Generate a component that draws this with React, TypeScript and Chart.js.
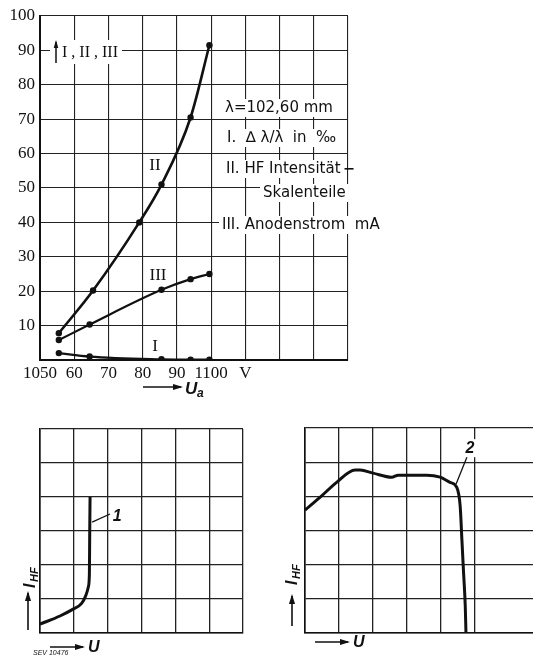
import React, { useEffect, useRef } from "react";
import { Chart, registerables } from "chart.js";

Chart.register(...registerables);

// ---------- Top chart data ----------
const xTickValues = [1050, 1060, 1070, 1080, 1090, 1100, 1110];
const xTickLabels = ["1050", "60", "70", "80", "90", "1100", "V"];
const yTickValues = [10, 20, 30, 40, 50, 60, 70, 80, 90, 100];

const seriesIIVoltage = [1055.5, 1065.5, 1079, 1085.5, 1094, 1099.5];
const seriesIIValues = [7.8, 20.2, 40, 51, 70.5, 91.5];

const seriesIIIVoltage = [1055.5, 1064.5, 1085.5, 1094, 1099.5];
const seriesIIIValues = [5.8, 10.3, 20.4, 23.5, 25];

const seriesIVoltage = [1055.5, 1064.5, 1085.5, 1094, 1099.5];
const seriesIValues = [2, 1, 0.2, 0.1, 0.1];

// ---------- Bottom-left curve 1 ----------
const curve1U = [0, 0.59, 0.94, 1.23, 1.36, 1.43, 1.46, 1.47, 1.48];
const curve1I = [0.26, 0.5, 0.68, 0.87, 1.12, 1.36, 1.75, 3.0, 4.0];

// ---------- Bottom-right curve 2 ----------
const curve2U = [0, 0.44, 0.93, 1.47, 1.62, 2.0, 2.55, 2.74, 3.58, 3.97, 4.26, 4.46, 4.56, 4.61, 4.66, 4.71, 4.73];
const curve2I = [3.6, 3.97, 4.41, 4.77, 4.77, 4.68, 4.56, 4.62, 4.62, 4.56, 4.41, 4.26, 3.71, 2.74, 1.76, 0.77, 0];

const INK = "#111";
const GRID = "#222";
const SERIF = "'Liberation Serif', 'DejaVu Serif', serif";
const SANS = "'DejaVu Sans', 'Liberation Sans', sans-serif";

function pts(xs: number[], ys: number[]) {
  return xs.map((x, i) => ({ x, y: ys[i] }));
}

function arrow(ctx: CanvasRenderingContext2D, x1: number, y1: number, x2: number, y2: number, head = 7, width = 1.5) {
  ctx.beginPath();
  ctx.moveTo(x1, y1);
  ctx.lineTo(x2, y2);
  ctx.lineWidth = width;
  ctx.strokeStyle = INK;
  ctx.stroke();
  const a = Math.atan2(y2 - y1, x2 - x1);
  const s = head * 0.38;
  ctx.beginPath();
  ctx.moveTo(x2 + Math.cos(a) * 2, y2 + Math.sin(a) * 2);
  ctx.lineTo(x2 - head * Math.cos(a) + s * Math.sin(a), y2 - head * Math.sin(a) - s * Math.cos(a));
  ctx.lineTo(x2 - head * Math.cos(a) - s * Math.sin(a), y2 - head * Math.sin(a) + s * Math.cos(a));
  ctx.closePath();
  ctx.fillStyle = INK;
  ctx.fill();
}

function boxedText(ctx: CanvasRenderingContext2D, text: string, x: number, y: number, font: string, pad = 3, h = 18) {
  ctx.font = font;
  const w = ctx.measureText(text).width;
  ctx.fillStyle = "#fff";
  ctx.fillRect(x - pad, y - h / 2, w + 2 * pad, h);
  ctx.fillStyle = INK;
  ctx.textBaseline = "middle";
  ctx.textAlign = "left";
  ctx.fillText(text, x, y);
  return w;
}

const topExtras = {
  id: "topExtras",
  afterDatasetsDraw(chart: any) {
    const ctx: CanvasRenderingContext2D = chart.ctx;
    ctx.save();
    // axis legend ↑ I , II , III
    ctx.fillStyle = "#fff";
    ctx.fillRect(50, 40, 72, 24);
    arrow(ctx, 56, 63, 56, 42, 6, 1.5);
    ctx.fillStyle = INK;
    ctx.font = `16px ${SERIF}`;
    ctx.textBaseline = "middle";
    ctx.fillText("I , II , III", 62, 53);

    // explanation texts
    boxedText(ctx, "λ=102,60 mm", 225, 108, `15px ${SANS}`);
    boxedText(ctx, "I.  ∆ λ/λ  in  ‰", 227, 138, `15px ${SANS}`);
    const w = boxedText(ctx, "II. HF Intensität", 226, 169, `15px ${SANS}`);
    ctx.fillRect(226 + w + 4, 168, 9, 1.6);
    boxedText(ctx, "Skalenteile", 263, 193, `15px ${SANS}`);
    boxedText(ctx, "III. Anodenstrom  mA", 222, 225, `15px ${SANS}`);

    // series labels
    ctx.font = `17px ${SERIF}`;
    ctx.textAlign = "center";
    ctx.fillText("II", 155, 166);
    ctx.fillText("III", 158, 276);
    ctx.fillText("I", 155, 347);

    // x axis title → Ua
    arrow(ctx, 143, 387, 181, 387, 8, 1.6);
    ctx.textAlign = "left";
    ctx.textBaseline = "alphabetic";
    ctx.font = `italic bold 17px 'Liberation Sans', sans-serif`;
    ctx.fillText("U", 185, 394);
    ctx.font = `italic bold 12px 'Liberation Sans', sans-serif`;
    ctx.fillText("a", 197, 397);
    ctx.restore();
  },
};

function ihfLabel(ctx: CanvasRenderingContext2D, cx: number, cy: number) {
  ctx.save();
  ctx.translate(cx, cy);
  ctx.rotate(-Math.PI / 2);
  ctx.fillStyle = INK;
  ctx.textBaseline = "alphabetic";
  ctx.textAlign = "left";
  ctx.font = `italic bold 16px 'Liberation Sans', sans-serif`;
  ctx.fillText("I", -10, 6);
  ctx.font = `italic bold 11px 'Liberation Sans', sans-serif`;
  ctx.fillText("HF", -4, 9);
  ctx.restore();
}

function makeBottomExtras(opts: {
  id: string;
  label: string;
  labelAt: [number, number];
  leaderFrom: [number, number];
  leaderTo: [number, number];
  ihf: [number, number];
  yArrow: [number, number, number];
  uArrow: [number, number, number];
  stamp?: boolean;
}) {
  return {
    id: opts.id,
    afterDatasetsDraw(chart: any) {
      const ctx: CanvasRenderingContext2D = chart.ctx;
      const sx = chart.scales.x;
      const sy = chart.scales.y;
      ctx.save();
      // leader line and curve label
      ctx.beginPath();
      ctx.moveTo(sx.getPixelForValue(opts.leaderFrom[0]), sy.getPixelForValue(opts.leaderFrom[1]));
      ctx.lineTo(sx.getPixelForValue(opts.leaderTo[0]), sy.getPixelForValue(opts.leaderTo[1]));
      ctx.lineWidth = 1.3;
      ctx.strokeStyle = INK;
      ctx.stroke();
      ctx.fillStyle = "#fff";
      const lx = sx.getPixelForValue(opts.labelAt[0]);
      const ly = sy.getPixelForValue(opts.labelAt[1]);
      ctx.fillRect(lx - 6, ly - 9, 12, 18);
      ctx.fillStyle = INK;
      ctx.font = `italic bold 16px 'Liberation Sans', sans-serif`;
      ctx.textAlign = "center";
      ctx.textBaseline = "middle";
      ctx.fillText(opts.label, lx, ly);

      // y axis title
      ihfLabel(ctx, opts.ihf[0], opts.ihf[1]);
      arrow(ctx, opts.yArrow[0], opts.yArrow[1], opts.yArrow[0], opts.yArrow[2], 8, 1.6);
      // x axis title
      arrow(ctx, opts.uArrow[0], opts.uArrow[2], opts.uArrow[1], opts.uArrow[2], 8, 1.6);
      ctx.textAlign = "left";
      ctx.textBaseline = "middle";
      ctx.font = `italic bold 16px 'Liberation Sans', sans-serif`;
      ctx.fillText("U", opts.uArrow[1] + 5, opts.uArrow[2] + 1);
      if (opts.stamp) {
        ctx.font = `italic 7px 'Liberation Sans', sans-serif`;
        ctx.fillText("SEV 10476", 33, 253);
      }
      ctx.restore();
    },
  };
}

function topConfig(): any {
  const ds = (xs: number[], ys: number[], bw: number) => ({
    data: pts(xs, ys),
    borderColor: INK,
    backgroundColor: INK,
    borderWidth: bw,
    pointRadius: 3.2,
    pointBorderWidth: 0,
    pointBackgroundColor: INK,
    cubicInterpolationMode: "monotone",
    fill: false,
  });
  return {
    type: "line",
    data: {
      datasets: [
        ds(seriesIIVoltage, seriesIIValues, 2.6),
        ds(seriesIIIVoltage, seriesIIIValues, 2.2),
        ds(seriesIVoltage, seriesIValues, 2.2),
      ],
    },
    options: {
      animation: false,
      responsive: false,
      devicePixelRatio: 1,
      layout: { padding: { top: 16, right: 185, left: 0, bottom: 0 } },
      plugins: { legend: { display: false }, tooltip: { enabled: false } },
      scales: {
        x: {
          type: "linear",
          min: 1050,
          max: 1140,
          afterFit(s: any) {
            s.height = 40;
          },
          ticks: {
            stepSize: 10,
            autoSkip: false,
            maxRotation: 0,
            padding: 3,
            color: INK,
            font: { family: SERIF, size: 17 },
            callback: (v: number) => {
              const i = xTickValues.indexOf(Math.round(v));
              return i >= 0 ? xTickLabels[i] : "";
            },
          },
          grid: { color: GRID, lineWidth: 1.1, drawTicks: false },
          border: { color: INK, width: 2 },
        },
        y: {
          type: "linear",
          min: 0,
          max: 100,
          afterFit(s: any) {
            s.width = 40;
          },
          ticks: {
            stepSize: 10,
            padding: 5,
            color: INK,
            font: { family: SERIF, size: 17 },
            callback: (v: number) => (yTickValues.includes(Math.round(v)) ? String(Math.round(v)) : ""),
          },
          grid: { color: GRID, lineWidth: 1.1, drawTicks: false },
          border: { color: INK, width: 2 },
        },
      },
    },
    plugins: [topExtras],
  };
}

function bottomConfig(xs: number[], ys: number[], xMax: number, padLeft: number, padTop: number, padRight: number, xAxisH: number, extras: any): any {
  return {
    type: "line",
    data: {
      datasets: [
        {
          data: pts(xs, ys),
          borderColor: INK,
          borderWidth: 3,
          pointRadius: 0,
          cubicInterpolationMode: "monotone",
          fill: false,
        },
      ],
    },
    options: {
      animation: false,
      responsive: false,
      devicePixelRatio: 1,
      layout: { padding: { top: padTop, right: padRight, left: 0, bottom: 0 } },
      plugins: { legend: { display: false }, tooltip: { enabled: false } },
      scales: {
        x: {
          type: "linear",
          min: 0,
          max: xMax,
          afterFit(s: any) {
            s.height = xAxisH;
          },
          afterBuildTicks(s: any) {
            s.ticks = s.ticks.filter((t: any) => Number.isInteger(t.value));
          },
          ticks: { display: false, stepSize: 1 },
          grid: { color: GRID, lineWidth: 1.3, drawTicks: false },
          border: { color: INK, width: 1.6 },
        },
        y: {
          type: "linear",
          min: 0,
          max: 6,
          afterFit(s: any) {
            s.width = padLeft;
          },
          ticks: { display: false, stepSize: 1 },
          grid: { color: GRID, lineWidth: 1.3, drawTicks: false },
          border: { color: INK, width: 1.6 },
        },
      },
    },
    plugins: [extras],
  };
}

export default function App() {
  const r1 = useRef<HTMLCanvasElement>(null);
  const r2 = useRef<HTMLCanvasElement>(null);
  const r3 = useRef<HTMLCanvasElement>(null);

  useEffect(() => {
    const c1 = new Chart(r1.current as HTMLCanvasElement, topConfig());
    const left = makeBottomExtras({
      id: "leftExtras",
      label: "1",
      labelAt: [2.28, 3.41],
      leaderFrom: [1.54, 3.26],
      leaderTo: [2.07, 3.5],
      ihf: [29, 178],
      yArrow: [28, 230, 193],
      uArrow: [50, 83, 247],
      stamp: true,
    });
    const c2 = new Chart(r2.current as HTMLCanvasElement, bottomConfig(curve1U, curve1I, 6, 40, 29, 27, 24, left));
    const right = makeBottomExtras({
      id: "rightExtras",
      label: "2",
      labelAt: [4.85, 5.41],
      leaderFrom: [4.44, 4.36],
      leaderTo: [4.76, 5.15],
      ihf: [21, 175],
      yArrow: [22, 226, 196],
      uArrow: [45, 78, 242],
    });
    const c3 = new Chart(r3.current as HTMLCanvasElement, bottomConfig(curve2U, curve2I, 6.7, 35, 28, 0, 24, right));
    return () => {
      c1.destroy();
      c2.destroy();
      c3.destroy();
    };
  }, []);

  return (
    <div style={{ position: "absolute", left: 0, top: 0, width: 533, height: 657, background: "#fff", overflow: "hidden" }}>
      <canvas ref={r1} width={533} height={400} style={{ position: "absolute", left: 0, top: 0 }} />
      <canvas ref={r2} width={270} height={257} style={{ position: "absolute", left: 0, top: 400 }} />
      <canvas ref={r3} width={263} height={257} style={{ position: "absolute", left: 270, top: 400 }} />
    </div>
  );
}
